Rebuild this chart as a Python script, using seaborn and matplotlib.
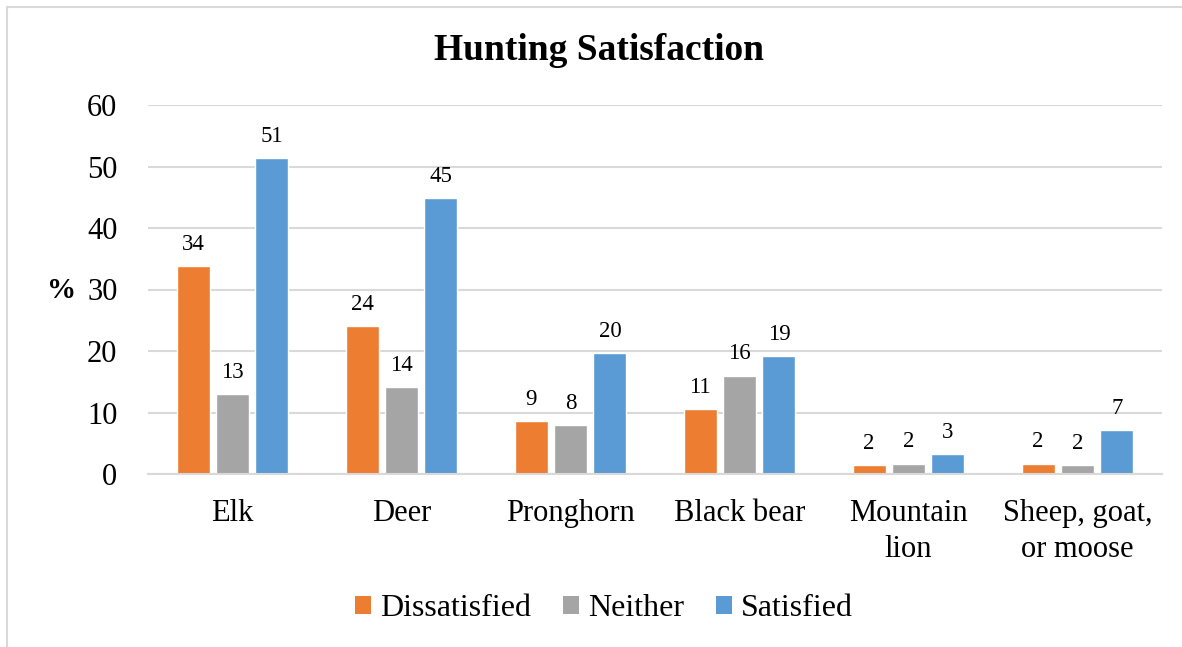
import matplotlib
matplotlib.use("Agg")
import matplotlib.pyplot as plt
from matplotlib.lines import Line2D
from matplotlib.patches import Patch
import seaborn as sns
import pandas as pd

categories = ["Elk", "Deer", "Pronghorn", "Black bear", "Mountain\nlion", "Sheep, goat,\nor moose"]
series = ["Dissatisfied", "Neither", "Satisfied"]
dissatisfied = [33.8, 24.1, 8.6, 10.6, 1.5, 1.7]
neither = [13.0, 14.1, 7.9, 16.0, 1.7, 1.5]
satisfied = [51.4, 44.9, 19.7, 19.2, 3.3, 7.2]
colors = ["#ED7D31", "#A5A5A5", "#5B9BD5"]
y_ticks = [0, 10, 20, 30, 40, 50, 60]

rows = []
for name, vals in zip(series, [dissatisfied, neither, satisfied]):
    for c, v in zip(categories, vals):
        rows.append({"Species": c, "Response": name, "Percent": v})
df = pd.DataFrame(rows)

sns.set_theme(style="white")
plt.rcParams["font.family"] = ["Liberation Serif", "DejaVu Serif"]
plt.rcParams["text.color"] = "black"
plt.rcParams["xtick.color"] = "black"
plt.rcParams["ytick.color"] = "black"
plt.rcParams["axes.labelcolor"] = "black"

W, H = 1182, 647
fig = plt.figure(figsize=(W / 100, H / 100), dpi=100)
ax = fig.add_axes([148 / W, 1 - 474 / H, (1162 - 148) / W, (474 - 105) / H])

sns.barplot(data=df, x="Species", y="Percent", hue="Response", order=categories,
            hue_order=series, palette=colors, width=0.7, gap=0.16, ax=ax,
            legend=False, saturation=1, errorbar=None)

for cont in ax.containers:
    ax.bar_label(cont, fmt="%.0f", padding=8, fontsize=16.5, color="black")

ax.set_ylim(0, 60)
ax.set_xlim(-0.5, len(categories) - 0.5)
ax.set_yticks(y_ticks)
ax.set_yticklabels([str(t) for t in y_ticks], fontsize=22)
ax.tick_params(axis="y", length=0, pad=22, colors="black")
ax.tick_params(axis="x", length=0, pad=18, labelsize=22, colors="black")
for lbl in ax.get_xticklabels():
    lbl.set_linespacing(1.3)
ax.yaxis.grid(True, color="#D9D9D9", linewidth=1.5)
ax.set_axisbelow(True)
for s in ["top", "right", "left"]:
    ax.spines[s].set_visible(False)
ax.spines["bottom"].set_color("#D9D9D9")
ax.spines["bottom"].set_linewidth(1.5)
ax.set_xlabel("")
ax.set_ylabel("%", fontsize=21, fontweight="bold", rotation=0, ha="center", va="center")
ax.yaxis.set_label_coords((62 - 148) / (1162 - 148), (474 - 291) / (474 - 105))

fig.text(599 / W, 1 - 51 / H, "Hunting Satisfaction", ha="center", va="center",
         fontsize=27, fontweight="bold", color="black")

handles = [Patch(facecolor=c, edgecolor="none", label=s) for c, s in zip(colors, series)]
fig.legend(handles=handles, loc="center", bbox_to_anchor=(604 / W, 1 - 609 / H), ncol=3,
           frameon=False, fontsize=23, handlelength=0.5, handleheight=0.5,
           handletextpad=0.28, columnspacing=1.0)

fig.add_artist(Line2D([7 / W, 7 / W], [0, 1 - 7 / H], transform=fig.transFigure,
                      color="#D9D9D9", linewidth=1.5))
fig.add_artist(Line2D([7 / W, 1], [1 - 7 / H, 1 - 7 / H], transform=fig.transFigure,
                      color="#D9D9D9", linewidth=1.5))

fig.savefig("out.png", dpi=100, facecolor="white")
